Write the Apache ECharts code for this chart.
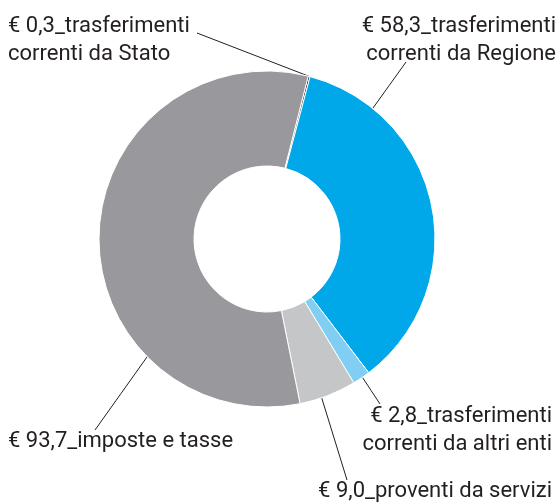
<!DOCTYPE html>
<html>
<head>
<meta charset="utf-8">
<script src="https://cdn.jsdelivr.net/npm/echarts@6/dist/echarts.min.js"></script>
<style>
  html, body { margin: 0; padding: 0; background: #fff; }
  #chart { width: 559px; height: 503px; }
</style>
</head>
<body>
<div id="chart"></div>
<script>
// dati (milioni di euro)
const values = [0.3, 58.3, 2.8, 9.0, 93.7]
const names = [
  'trasferimenti\ncorrenti da Stato',
  'trasferimenti\ncorrenti da Regione',
  'trasferimenti\ncorrenti da altri enti',
  'proventi da servizi',
  'imposte e tasse'
]
const colors = ['#1d1d1b', '#00a7e9', '#80cef4', '#c5c6c8', '#99989d']

// posizione etichette e linee guida (solo layout)
const CX = 267, CY = 239, R_IN = 73, R_OUT = 168
const placement = [
  { x: 8, y: 12, align: 'left', vAlign: 'top', ang: 14.5, end: [197, 33] },
  { x: 556, y: 12, align: 'right', vAlign: 'top', ang: 39, end: [406, 62] },
  { x: 552, y: 402, align: 'right', vAlign: 'top', ang: 145.4, end: [380, 404] },
  { x: 552, y: 491, align: 'right', vAlign: 'middle', ang: 161, end: [347, 480] },
  { x: 8, y: 441, align: 'left', vAlign: 'middle', ang: 225.5, end: [95, 430] }
]

const fmt = v => '€ ' + v.toFixed(1).replace('.', ',')

const chart = echarts.init(document.getElementById('chart'))

chart.setOption({
  animation: false,
  series: [
    {
      type: 'pie',
      center: [CX, CY],
      radius: [R_IN, R_OUT],
      startAngle: 90 - 14.2,
      clockwise: true,
      avoidLabelOverlap: false,
      itemStyle: { borderColor: '#fff', borderWidth: 1 },
      label: {
        show: true,
        position: 'outside',
        fontFamily: 'Roboto',
        fontSize: 22,
        lineHeight: 28,
        color: '#231f20',
        formatter: p => fmt(p.value) + '_' + p.name
      },
      labelLine: {
        show: true,
        lineStyle: { color: '#231f20', width: 1 }
      },
      labelLayout: function (params) {
        const p = placement[params.dataIndex]
        const a = p.ang * Math.PI / 180
        const start = [CX + R_OUT * Math.sin(a), CY - R_OUT * Math.cos(a)]
        const mid = [(start[0] + p.end[0]) / 2, (start[1] + p.end[1]) / 2]
        return {
          x: p.x,
          y: p.y,
          align: p.align,
          verticalAlign: p.vAlign,
          labelLinePoints: [start, mid, p.end]
        }
      },
      data: values.map((v, i) => ({
        value: v,
        name: names[i],
        itemStyle: { color: colors[i] }
      }))
    }
  ]
})
</script>
</body>
</html>
